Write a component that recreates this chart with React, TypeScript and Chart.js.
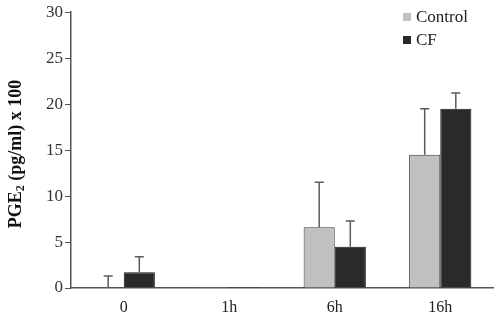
import React, { useEffect, useRef } from "react";
import { Chart, registerables } from "chart.js";

Chart.register(...registerables);

const categories = ["0", "1h", "6h", "16h"];
const controlValues = [0, 0.1, 6.6, 14.5];
const controlErrTop = [1.3, 0.1, 11.5, 19.5];
const cfValues = [1.7, 0.1, 4.5, 19.5];
const cfErrTop = [3.4, 0.1, 7.3, 21.2];
const yTicks = [0, 5, 10, 15, 20, 25, 30];
const errTops = [controlErrTop, cfErrTop];

const FONT = "'Liberation Serif', 'DejaVu Serif', serif";

const errorBarPlugin = {
  id: "errorBars",
  afterDatasetsDraw(chart: any) {
    const ctx = chart.ctx;
    const y = chart.scales.y;
    chart.data.datasets.forEach((ds: any, di: number) => {
      const meta = chart.getDatasetMeta(di);
      meta.data.forEach((bar: any, i: number) => {
        const top = errTops[di][i];
        if (top <= ds.data[i] + 0.2) return;
        const yTop = y.getPixelForValue(top);
        const yBase = y.getPixelForValue(ds.data[i]);
        ctx.save();
        ctx.strokeStyle = "#5a5a5a";
        ctx.lineWidth = 1.5;
        ctx.beginPath();
        ctx.moveTo(bar.x, yBase);
        ctx.lineTo(bar.x, yTop);
        ctx.moveTo(bar.x - 4.5, yTop);
        ctx.lineTo(bar.x + 4.5, yTop);
        ctx.stroke();
        ctx.restore();
      });
    });
  },
};

const decorPlugin = {
  id: "decor",
  afterDraw(chart: any) {
    const ctx = chart.ctx;
    const area = chart.chartArea;
    ctx.save();
    // y-axis title with subscript
    ctx.translate(16, 154);
    ctx.rotate(-Math.PI / 2);
    ctx.fillStyle = "#111";
    ctx.textBaseline = "middle";
    const big = `bold 18px ${FONT}`;
    const small = `bold 12px ${FONT}`;
    const p1 = "PGE";
    const p2 = "2";
    const p3 = " (pg/ml) x 100";
    ctx.font = big;
    const w1 = ctx.measureText(p1).width;
    const w3 = ctx.measureText(p3).width;
    ctx.font = small;
    const w2 = ctx.measureText(p2).width;
    const total = w1 + w2 + w3;
    let x = -total / 2;
    ctx.font = big;
    ctx.textAlign = "left";
    ctx.fillText(p1, x, 0);
    x += w1;
    ctx.font = small;
    ctx.fillText(p2, x, 5);
    x += w2;
    ctx.font = big;
    ctx.fillText(p3, x, 0);
    ctx.restore();

    // legend
    ctx.save();
    ctx.font = `17px ${FONT}`;
    ctx.textBaseline = "middle";
    ctx.textAlign = "left";
    const rows = [17, 40];
    chart.data.datasets.forEach((ds: any, di: number) => {
      const cy = rows[di];
      ctx.fillStyle = ds.backgroundColor;
      ctx.fillRect(403, cy - 4, 8, 8);
      ctx.fillStyle = "#222";
      ctx.fillText(ds.label, 416, cy + 1);
    });
    ctx.restore();
  },
};

export default function App() {
  const ref = useRef<HTMLCanvasElement>(null);
  useEffect(() => {
    document.body.style.margin = "0";
    const chart = new Chart(ref.current!, {
      type: "bar",
      data: {
        labels: categories,
        datasets: [
          {
            label: "Control",
            data: controlValues,
            backgroundColor: "#c0c0c0",
            borderColor: "#3a3a3a",
            borderWidth: 1,
          },
          {
            label: "CF",
            data: cfValues,
            backgroundColor: "#2a2a2a",
            borderColor: "#1a1a1a",
            borderWidth: 1,
          },
        ],
      },
      options: {
        animation: false,
        responsive: false,
        layout: { padding: { top: 10, right: 5, left: 0, bottom: 0 } },
        plugins: { legend: { display: false }, tooltip: { enabled: false } },
        datasets: { bar: { barPercentage: 1, categoryPercentage: 0.59 } },
        scales: {
          x: {
            grid: { display: false },
            border: { display: true, color: "#555", width: 1.5 },
            ticks: { color: "#222", font: { family: FONT, size: 16 }, padding: 2 },
            afterFit: (s: any) => {
              s.height = 28;
            },
          },
          y: {
            min: 0,
            max: 30,
            afterBuildTicks: (s: any) => {
              s.ticks = yTicks.map((v) => ({ value: v }));
            },
            grid: { drawOnChartArea: false, drawTicks: true, tickLength: 6, color: "#555" },
            border: { display: true, color: "#555", width: 1.5 },
            ticks: { color: "#333", font: { family: FONT, size: 17 }, padding: 2 },
            afterFit: (s: any) => {
              s.width = 71;
            },
          },
        },
      },
      plugins: [errorBarPlugin, decorPlugin],
    });
    return () => chart.destroy();
  }, []);
  return <canvas ref={ref} width={498} height={316} style={{ display: "block" }} />;
}
